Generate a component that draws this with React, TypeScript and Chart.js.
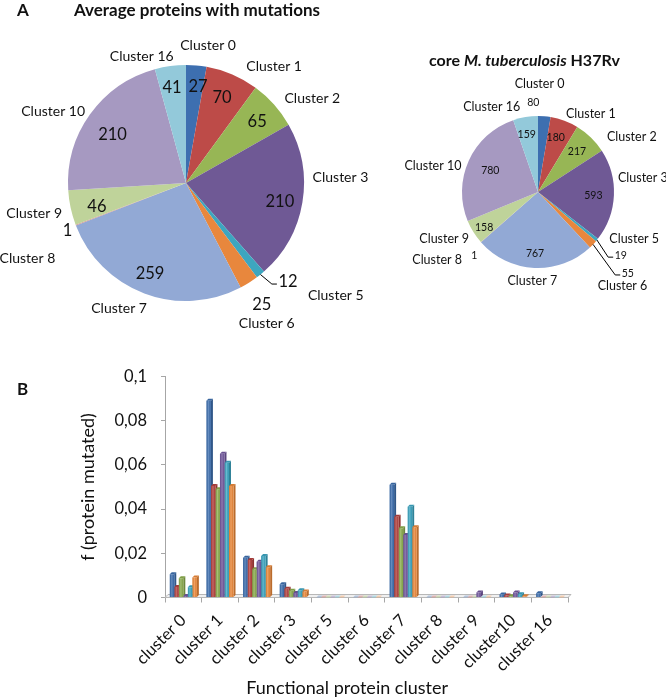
import React, { useEffect, useRef } from "react";
import { Chart, registerables } from "chart.js";

Chart.register(...registerables);

const FONT = "Lato, 'Noto Sans', sans-serif";
const TEXT = "#111111";

// ---------- Pie data ----------
const pieCategories = [
  "Cluster 0", "Cluster 1", "Cluster 2", "Cluster 3", "Cluster 5", "Cluster 6",
  "Cluster 7", "Cluster 8", "Cluster 9", "Cluster 10", "Cluster 16",
];
const avgProteinsWithMutations = [27, 70, 65, 210, 12, 25, 259, 1, 46, 210, 41];
const coreH37RvProteins = [80, 180, 217, 593, 19, 55, 767, 1, 158, 780, 159];
const pieColors = [
  "#3D6FB0", "#BD4B48", "#97B655", "#6F5995", "#3DA6BF", "#E8873D",
  "#92A9D5", "#D39290", "#BFD39A", "#A699C1", "#93C9DA",
];

// ---------- Bar data ----------
const barCategories = [
  "cluster 0", "cluster 1", "cluster 2", "cluster 3", "cluster 5", "cluster 6",
  "cluster 7", "cluster 8", "cluster 9", "cluster10", "cluster 16",
];
const series1 = [0.0105, 0.089, 0.018, 0.006, 0, 0, 0.051, 0, 0, 0.0014, 0.0019];
const series2 = [0.0048, 0.0505, 0.017, 0.004, 0, 0, 0.0365, 0, 0, 0.0009, 0];
const series3 = [0.0087, 0.049, 0.0128, 0.003, 0, 0, 0.0313, 0, 0, 0.0006, 0];
const series4 = [0.0007, 0.065, 0.0162, 0.002, 0, 0, 0.0283, 0, 0.0023, 0.0023, 0];
const series5 = [0.0046, 0.061, 0.0188, 0.0033, 0, 0, 0.0411, 0, 0, 0.0015, 0];
const series6 = [0.0091, 0.0505, 0.0137, 0.0027, 0, 0, 0.0318, 0, 0, 0.0006, 0];
const seriesNames = ["Series 1", "Series 2", "Series 3", "Series 4", "Series 5", "Series 6"];
const barColors = ["#3D6FB0", "#B7423F", "#8DAF4E", "#7459A0", "#3CA7C3", "#EF8A3A"];
const yTickLabels = ["0", "0,02", "0,04", "0,06", "0,08", "0,1"];

// ---------- Label layout (polar: degrees clockwise from top, radius factor) ----------
const leftCatPos: [number, number][] = [
  [9.1, 1.184], [36.9, 1.244], [56.1, 1.29], [87.8, 1.31], [126.8, 1.585], [150.1, 1.372],
  [208.2, 1.2], [244.8, 1.485], [258.7, 1.312], [298.4, 1.28], [340.8, 1.14],
];
const leftValPos: [number, number][] = [
  [7.1, 0.83], [22.7, 0.79], [48.9, 0.8], [100.8, 0.81], [133.8, 1.197], [148, 1.212],
  [201.8, 0.82], [248.4, 1.08], [255.5, 0.78], [303.9, 0.75], [351.7, 0.82],
];
const leftLeaders = [4];
const rightCatPos: [number, number][] = [
  [0.8, 1.43], [33.9, 1.247], [59.2, 1.437], [82.2, 1.392], [115.7, 1.405], [137.95, 1.66],
  [183.7, 1.17], [236, 1.6], [243.5, 1.379], [284.4, 1.427], [331.7, 1.285],
];
const rightValPos: [number, number][] = [
  [357, 1.18], [17.9, 0.76], [43.8, 0.74], [93.8, 0.73], [127.3, 1.369], [132, 1.59],
  [182.8, 0.8], [225.3, 1.18], [236.5, 0.85], [294.6, 0.69], [349, 0.78],
];
const rightLeaders = [4, 5];

type PieLabelCfg = {
  catPos: [number, number][];
  valPos: [number, number][];
  leaders: number[];
  catSize: number;
  valSize: number;
};

function makePieLabelPlugin(cfg: PieLabelCfg) {
  return {
    id: "pieLabels",
    afterDraw(chart: any) {
      const meta = chart.getDatasetMeta(0);
      const values = chart.data.datasets[0].data as number[];
      const first = meta.data[0];
      const cx = first.x, cy = first.y, R = first.outerRadius;
      const ctx = chart.ctx as CanvasRenderingContext2D;
      const pt = (deg: number, k: number) => {
        const a = (deg * Math.PI) / 180;
        return [cx + k * R * Math.sin(a), cy - k * R * Math.cos(a)];
      };
      ctx.save();
      ctx.fillStyle = TEXT;
      ctx.strokeStyle = "#000";
      ctx.lineWidth = 1;
      ctx.textAlign = "center";
      ctx.textBaseline = "alphabetic";
      meta.data.forEach((arc: any, i: number) => {
        const label = chart.data.labels[i];
        ctx.font = `${cfg.catSize}px ${FONT}`;
        const [cxl, cyl] = pt(cfg.catPos[i][0], cfg.catPos[i][1]);
        ctx.fillText(label, cxl, cyl + 0.36 * cfg.catSize);

        ctx.font = `${cfg.valSize}px ${FONT}`;
        const txt = String(values[i]);
        const [vx, vy] = pt(cfg.valPos[i][0], cfg.valPos[i][1]);
        ctx.fillText(txt, vx, vy + 0.36 * cfg.valSize);
        if (cfg.leaders.includes(i)) {
          const w = ctx.measureText(txt).width;
          const mid = ((arc.startAngle + arc.endAngle) / 2) * 180 / Math.PI + 90;
          const [ex, ey] = pt(mid, 1.0);
          const ly = vy + 0.2 * cfg.valSize;
          const lx = vx - w / 2 - 1.5;
          ctx.beginPath();
          ctx.moveTo(ex, ey);
          ctx.lineTo(lx - 5, ly);
          ctx.lineTo(lx, ly);
          ctx.stroke();
        }
      });
      ctx.restore();
    },
  };
}

function pieConfig(values: number[], padding: any, labelCfg: PieLabelCfg): any {
  return {
    type: "pie",
    data: {
      labels: pieCategories,
      datasets: [{ data: values, backgroundColor: pieColors, borderWidth: 0 }],
    },
    options: {
      responsive: false,
      animation: false,
      layout: { padding },
      plugins: { legend: { display: false }, tooltip: { enabled: false }, title: { display: false } },
    },
    plugins: [makePieLabelPlugin(labelCfg)],
  };
}

function shade(hex: string, f: number, alpha = 1) {
  const n = parseInt(hex.slice(1), 16);
  let r = (n >> 16) & 255, g = (n >> 8) & 255, b = n & 255;
  if (f < 0) { r *= 1 + f; g *= 1 + f; b *= 1 + f; }
  else { r += (255 - r) * f; g += (255 - g) * f; b += (255 - b) * f; }
  return `rgba(${Math.round(r)},${Math.round(g)},${Math.round(b)},${alpha})`;
}

const DEPTH = 2;

const bar3dPlugin = {
  id: "bar3d",
  beforeDatasetsDraw(chart: any) {
    const ctx = chart.ctx as CanvasRenderingContext2D;
    const d = DEPTH;
    const { left, right, bottom } = chart.chartArea;
    ctx.save();
    ctx.fillStyle = "#F0F0F0";
    ctx.strokeStyle = "#B8B8B8";
    ctx.lineWidth = 1;
    ctx.beginPath();
    ctx.moveTo(left, bottom);
    ctx.lineTo(right, bottom);
    ctx.lineTo(right + d + 1, bottom - d - 1);
    ctx.lineTo(left + d + 1, bottom - d - 1);
    ctx.closePath();
    ctx.fill();
    ctx.stroke();
    chart.data.datasets.forEach((ds: any, di: number) => {
      const meta = chart.getDatasetMeta(di);
      meta.data.forEach((bar: any, i: number) => {
        const { x, y, base, width } = bar.getProps(["x", "y", "base", "width"], true);
        const l = x - width / 2, r = x + width / 2;
        const col = ds.backgroundColor as string;
        const zero = ds.data[i] === 0;
        if (!zero) {
          ctx.fillStyle = shade(col, -0.22);
          ctx.beginPath();
          ctx.moveTo(r, y);
          ctx.lineTo(r + d, y - d);
          ctx.lineTo(r + d, base - d);
          ctx.lineTo(r, base);
          ctx.closePath();
          ctx.fill();
        }
        ctx.fillStyle = zero ? shade(col, 0.35, 0.55) : shade(col, -0.1);
        ctx.beginPath();
        ctx.moveTo(l, y);
        ctx.lineTo(l + d, y - d);
        ctx.lineTo(r + d, y - d);
        ctx.lineTo(r, y);
        ctx.closePath();
        ctx.fill();
      });
    });
    ctx.restore();
  },
  afterDatasetsDraw(chart: any) {
    const ctx = chart.ctx as CanvasRenderingContext2D;
    ctx.save();
    chart.data.datasets.forEach((_ds: any, di: number) => {
      const meta = chart.getDatasetMeta(di);
      meta.data.forEach((bar: any) => {
        const { x, y, base, width } = bar.getProps(["x", "y", "base", "width"], true);
        if (base - y < 0.5) return;
        const l = x - width / 2;
        const g = ctx.createLinearGradient(l, 0, l + width, 0);
        g.addColorStop(0, "rgba(0,0,0,0.08)");
        g.addColorStop(0.45, "rgba(255,255,255,0.22)");
        g.addColorStop(1, "rgba(0,0,0,0.05)");
        ctx.fillStyle = g;
        ctx.fillRect(l, y, width, base - y);
      });
    });
    ctx.restore();
  },
};

const xTitlePlugin = {
  id: "xTitle",
  afterDraw(chart: any) {
    const ctx = chart.ctx as CanvasRenderingContext2D;
    const { left, right } = chart.chartArea;
    ctx.save();
    ctx.font = `18px ${FONT}`;
    ctx.fillStyle = TEXT;
    ctx.textAlign = "center";
    ctx.textBaseline = "alphabetic";
    ctx.fillText("Functional protein cluster", left + (right - left) * 0.452, 338 + 0.36 * 18);
    ctx.restore();
  },
};

function barConfig(): any {
  const all = [series1, series2, series3, series4, series5, series6];
  return {
    type: "bar",
    data: {
      labels: barCategories,
      datasets: all.map((d, i) => ({
        label: seriesNames[i],
        data: d,
        backgroundColor: barColors[i],
        borderWidth: 0,
        barPercentage: 1,
        categoryPercentage: 0.74,
      })),
    },
    options: {
      responsive: false,
      animation: false,
      layout: { padding: { left: 0, top: 26.5, right: 98, bottom: 0 } },
      plugins: { legend: { display: false }, tooltip: { enabled: false }, title: { display: false } },
      scales: {
        x: {
          grid: { display: true, drawOnChartArea: false, tickLength: 5, color: "#A6A6A6", offset: true },
          border: { color: "#A6A6A6" },
          ticks: {
            minRotation: 45,
            maxRotation: 45,
            autoSkip: false,
            color: TEXT,
            font: { family: FONT, size: 16.5 },
            padding: 8,
          },
          afterFit: (s: any) => { s.height = 100.5; },
        },
        y: {
          min: 0,
          max: 0.1,
          ticks: {
            stepSize: 0.02,
            color: TEXT,
            font: { family: FONT, size: 16.5 },
            padding: 14,
            callback: (_v: any, i: number) => yTickLabels[i] ?? "",
          },
          grid: { drawOnChartArea: false, tickLength: 4, color: "#A6A6A6" },
          border: { color: "#A6A6A6" },
          title: {
            display: true,
            text: "f (protein mutated)",
            color: TEXT,
            font: { family: FONT, size: 18 },
            padding: { top: 77, bottom: 0 },
          },
          afterFit: (s: any) => { s.width = 165; },
        },
      },
    },
    plugins: [bar3dPlugin, xTitlePlugin],
  };
}

export default function App() {
  const leftRef = useRef<HTMLCanvasElement>(null);
  const rightRef = useRef<HTMLCanvasElement>(null);
  const barRef = useRef<HTMLCanvasElement>(null);

  useEffect(() => {
    const charts: Chart[] = [];
    charts.push(
      new Chart(
        leftRef.current as HTMLCanvasElement,
        pieConfig(avgProteinsWithMutations, { left: 68, top: 65, right: 86, bottom: 44 }, {
          catPos: leftCatPos, valPos: leftValPos, leaders: leftLeaders, catSize: 14, valSize: 16.5,
        })
      )
    );
    charts.push(
      new Chart(
        rightRef.current as HTMLCanvasElement,
        pieConfig(coreH37RvProteins, { left: 82, top: 76, right: 52, bottom: 72 }, {
          catPos: rightCatPos, valPos: rightValPos, leaders: rightLeaders, catSize: 12.5, valSize: 10.5,
        })
      )
    );
    charts.push(new Chart(barRef.current as HTMLCanvasElement, barConfig()));
    return () => charts.forEach((c) => c.destroy());
  }, []);

  const abs = (left: number, top: number): React.CSSProperties => ({
    position: "absolute", left, top, whiteSpace: "nowrap",
  });

  return (
    <div style={{ position: "absolute", left: 0, top: 0, width: 666, height: 698, background: "#fff", fontFamily: FONT, color: TEXT, overflow: "hidden" }}>
      <canvas ref={leftRef} width={390} height={345} style={{ position: "absolute", left: 0, top: 0 }} />
      <canvas ref={rightRef} width={286} height={300} style={{ position: "absolute", left: 380, top: 40 }} />
      <canvas ref={barRef} width={666} height={348} style={{ position: "absolute", left: 0, top: 350 }} />
      <div style={{ ...abs(17, 0.5), font: `bold 17px ${FONT}`, lineHeight: "17px" }}>A</div>
      <div style={{ ...abs(74, 0.8), font: `bold 17px ${FONT}`, lineHeight: "17px" }}>Average proteins with mutations</div>
      <div style={{ ...abs(429, 52), font: `bold 16px ${FONT}`, lineHeight: "16px" }}>
        core <i>M. tuberculosis</i> H37Rv
      </div>
      <div style={{ ...abs(17, 380), font: `bold 17px ${FONT}`, lineHeight: "17px" }}>B</div>
    </div>
  );
}
